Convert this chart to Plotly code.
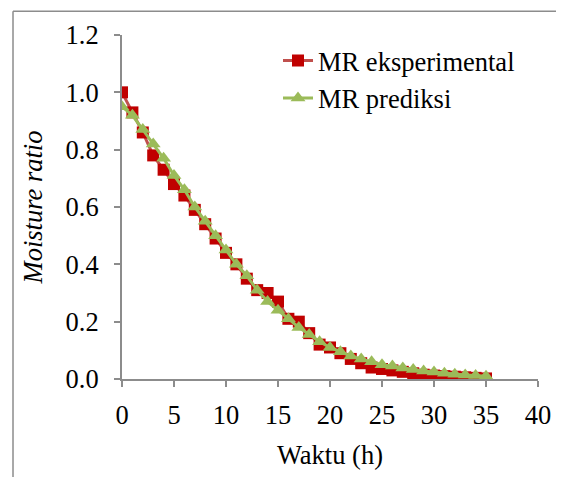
import plotly.graph_objects as go

waktu = list(range(0, 36))
mr_eksperimental = [1.00, 0.93, 0.86, 0.78, 0.73, 0.68, 0.64, 0.59, 0.54, 0.49,
                    0.44, 0.40, 0.35, 0.31, 0.30, 0.27, 0.21, 0.20, 0.16, 0.12,
                    0.11, 0.09, 0.07, 0.055, 0.04, 0.035, 0.03, 0.025, 0.02, 0.015,
                    0.012, 0.01, 0.008, 0.006, 0.004, 0.002]
mr_prediksi = [0.95, 0.92, 0.87, 0.82, 0.77, 0.71, 0.66, 0.60, 0.55, 0.50,
               0.45, 0.40, 0.36, 0.31, 0.27, 0.24, 0.21, 0.18, 0.155, 0.13,
               0.11, 0.095, 0.08, 0.07, 0.06, 0.05, 0.045, 0.038, 0.033, 0.028,
               0.024, 0.02, 0.017, 0.014, 0.012, 0.01]
x_ticks = [0, 5, 10, 15, 20, 25, 30, 35, 40]
y_ticks = [0.0, 0.2, 0.4, 0.6, 0.8, 1.0, 1.2]

font = "Liberation Serif, Times New Roman, serif"
fs = 26.5

fig = go.Figure()
fig.add_trace(go.Scatter(
    x=waktu, y=mr_eksperimental, mode="lines+markers", name="MR eksperimental",
    legendgroup="a",
    line=dict(color="#C0504D", width=3),
    marker=dict(symbol="square", size=12, color="#C00000"),
))
fig.add_trace(go.Scatter(
    x=waktu, y=mr_prediksi, mode="lines+markers", name="MR prediksi",
    legendgroup="b",
    line=dict(color="#9BBB59", width=3),
    marker=dict(symbol="triangle-up", size=13, color="#9BBB59"),
))

axis_common = dict(showgrid=False, zeroline=False, showline=True, linecolor="#8c8c8c",
                   linewidth=2, ticks="outside", tickcolor="#8c8c8c", ticklen=6, tickwidth=2,
                   tickfont=dict(family=font, size=fs, color="black"))

fig.update_layout(
    width=556, height=469,
    margin=dict(l=114, r=26, t=25, b=96),
    paper_bgcolor="white", plot_bgcolor="white",
    font=dict(family=font, color="black"),
    showlegend=True,
    legend=dict(x=0.375, y=0.995, xanchor="left", yanchor="top", bgcolor="rgba(0,0,0,0)",
                font=dict(family=font, size=fs, color="black"), tracegroupgap=0),
    xaxis=dict(range=[0, 40], tickvals=x_ticks, ticktext=[str(v) for v in x_ticks],
               ticklabelstandoff=5,
               title=dict(text="Waktu (h)", font=dict(family=font, size=fs), standoff=17),
               **axis_common),
    yaxis=dict(range=[0, 1.2], tickvals=y_ticks, ticktext=[f"{v:.1f}" for v in y_ticks],
               ticklabelstandoff=10,
               title=dict(text="<i>Moisture ratio</i>", font=dict(family=font, size=fs), standoff=15),
               **axis_common),
    shapes=[
        dict(type="line", xref="paper", yref="paper", x0=-0.262, x1=1.2, y0=1.069, y1=1.069,
             line=dict(color="#8c8c8c", width=1.5)),
        dict(type="line", xref="paper", yref="paper", x0=-0.262, x1=-0.262, y0=1.069, y1=-0.4,
             line=dict(color="#8c8c8c", width=1.5)),
    ],
)
fig.write_html("out.html")
